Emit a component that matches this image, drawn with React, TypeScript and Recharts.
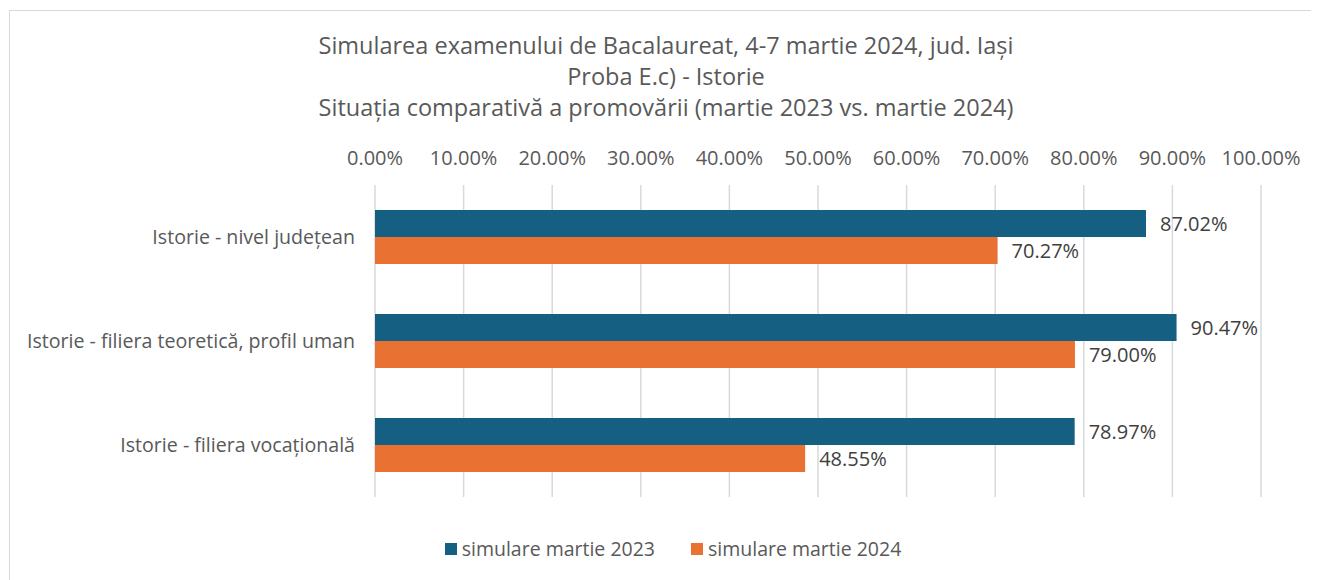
import { Bar, BarChart, CartesianGrid, LabelList, XAxis, YAxis } from 'recharts'

const categories = [
  'Istorie - nivel județean',
  'Istorie - filiera teoretică, profil uman',
  'Istorie - filiera vocațională',
]
const martie2023 = [87.02, 90.47, 78.97]
const martie2024 = [70.27, 79.0, 48.55]
const xTicks = [0, 10, 20, 30, 40, 50, 60, 70, 80, 90, 100]
const titleLines = [
  'Simularea examenului de Bacalaureat, 4-7 martie 2024, jud. Iași',
  'Proba E.c) - Istorie',
  'Situația comparativă a promovării (martie 2023 vs. martie 2024)',
]
const seriesNames = ['simulare martie 2023', 'simulare martie 2024']
const colors = ['#156082', '#E97132']

const FONT = '"Open Sans", sans-serif'
const TEXT = '#595959'

const data = categories.map((name, i) => ({
  name,
  a: martie2023[i],
  b: martie2024[i],
}))

const fmt = (v: number) => `${Number(v).toFixed(2)}%`

function LegendBox() {
  return (
    <div
      style={{
        position: 'absolute',
        top: 524,
        left: 0,
        width: 1318,
        display: 'flex',
        justifyContent: 'center',
        gap: 36,
        fontFamily: FONT,
        fontSize: 19.5,
        color: TEXT,
        transform: 'translateX(4px)',
      }}
    >
      {seriesNames.map((n, i) => (
        <div key={n} style={{ display: 'flex', alignItems: 'center', gap: 5 }}>
          <span style={{ width: 12, height: 12, background: colors[i], display: 'inline-block' }} />
          <span>{n}</span>
        </div>
      ))}
    </div>
  )
}

export default function App() {
  return (
    <div
      style={{
        position: 'relative',
        left: 1,
        top: 2,
        width: 1320,
        height: 580,
        border: '1px solid #d9d9d9',
        background: '#fff',
        fontFamily: FONT,
      }}
    >
      <div
        style={{
          position: 'absolute',
          top: 19,
          left: 0,
          width: 1318,
          textAlign: 'center',
          color: TEXT,
          fontSize: 23.5,
          lineHeight: '31px',
          transform: 'translateX(-3px)',
        }}
      >
        {titleLines.map((t) => (
          <div key={t}>{t}</div>
        ))}
      </div>
      <BarChart
        width={1310}
        height={569}
        data={data}
        layout='vertical'
        margin={{ top: 144, right: 59, bottom: 83, left: 0 }}
        barSize={27}
        barGap={0}
      >
        <CartesianGrid horizontal={false} stroke='#d9d9d9' strokeWidth={1.5} />
        <XAxis
          type='number'
          orientation='top'
          domain={[0, 100]}
          ticks={xTicks}
          tickFormatter={fmt}
          height={30}
          axisLine={false}
          tickLine={false}
          tickMargin={14}
          tick={{ fill: TEXT, fontSize: 20, fontFamily: FONT }}
          interval={0}
        />
        <YAxis
          type='category'
          dataKey='name'
          width={365}
          axisLine={false}
          tickLine={false}
          tickMargin={14}
          tick={{ fill: TEXT, fontSize: 19.6, fontFamily: FONT }}
        />
        <Bar dataKey='a' name={seriesNames[0]} fill={colors[0]} isAnimationActive={false}>
          <LabelList dataKey='a' position='right' offset={14} formatter={fmt} fill='#404040' fontSize={20} fontFamily={FONT} />
        </Bar>
        <Bar dataKey='b' name={seriesNames[1]} fill={colors[1]} isAnimationActive={false}>
          <LabelList dataKey='b' position='right' offset={14} formatter={fmt} fill='#404040' fontSize={20} fontFamily={FONT} />
        </Bar>
      </BarChart>
      <LegendBox />
    </div>
  )
}
